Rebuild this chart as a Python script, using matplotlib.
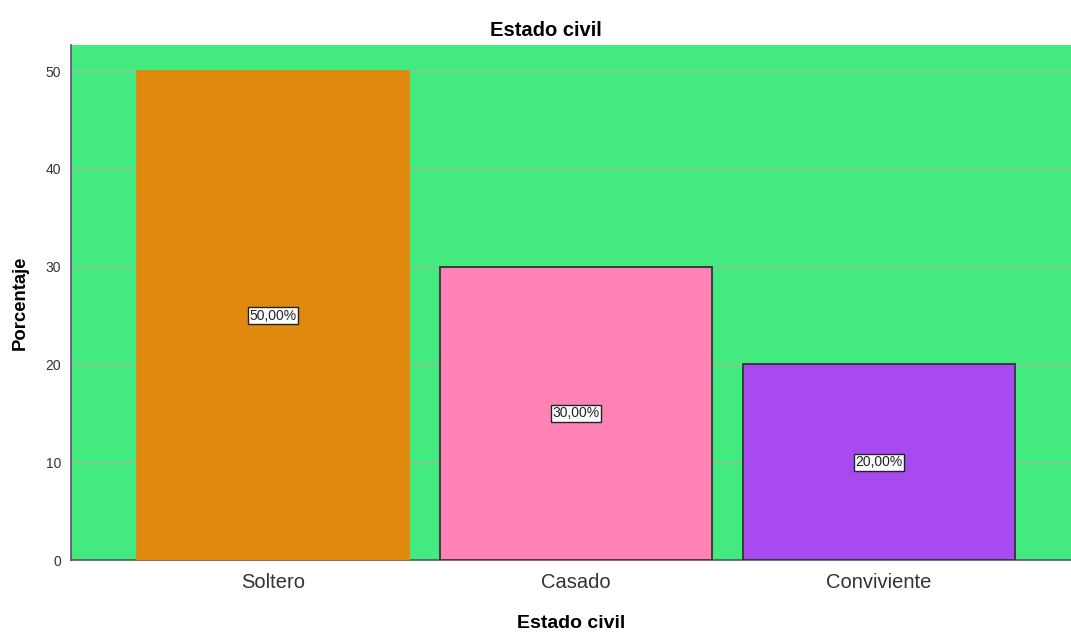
import numpy as np
import matplotlib.pyplot as plt

categorias = ["Soltero", "Casado", "Conviviente"]
porcentajes = [50.0, 30.0, 20.0]
colores = ["#E0890F", "#FF82B4", "#A74BF0"]
bordes = ["#E0890F", "#333333", "#333333"]
etiquetas = ["50,00%", "30,00%", "20,00%"]

plt.rcParams['font.family'] = ['Liberation Sans', 'DejaVu Sans']

fig = plt.figure(figsize=(10.71, 6.33), dpi=100)
ax = fig.add_axes([0.0663, 0.1153, 0.9337, 0.8136])
ax.set_facecolor("#42EA80")

x = np.arange(len(categorias))
ax.bar(x, porcentajes, width=0.8977, color=colores, edgecolor=bordes, linewidth=1.3, zorder=3)

# etiquetas de porcentaje dentro de cada barra
for xi, v, t in zip(x, porcentajes, etiquetas):
    ax.text(xi, v / 2, t, ha='center', va='center', fontsize=10, color='#222222', zorder=4,
            bbox=dict(boxstyle='square,pad=0.12', fc='white', ec='#222222', lw=1))

ax.set_xlim(-0.667, 2.634)
ax.set_ylim(0, 52.66)
ax.set_yticks([0, 10, 20, 30, 40, 50])
ax.set_xticks(x)
ax.set_xticklabels(categorias, fontsize=14.5, color='#333333')
ax.tick_params(axis='y', labelsize=10, length=0, pad=7, colors='#333333')
ax.tick_params(axis='x', length=0, pad=9)
ax.yaxis.grid(True, color='#9DBB9D', linewidth=1, zorder=1)
ax.set_axisbelow(True)

for s in ['top', 'right']:
    ax.spines[s].set_visible(False)
for s in ['left', 'bottom']:
    ax.spines[s].set_color('#555566')
    ax.spines[s].set_linewidth(1.2)

fig.text(0.51, 0.952, "Estado civil", ha='center', va='center', fontsize=14.5, fontweight='bold')
ax.set_xlabel("Estado civil", fontsize=14, fontweight='bold', labelpad=17)
ax.set_ylabel("Porcentaje", fontsize=13.3, fontweight='bold', labelpad=12)

fig.savefig("out.png", dpi=100)
